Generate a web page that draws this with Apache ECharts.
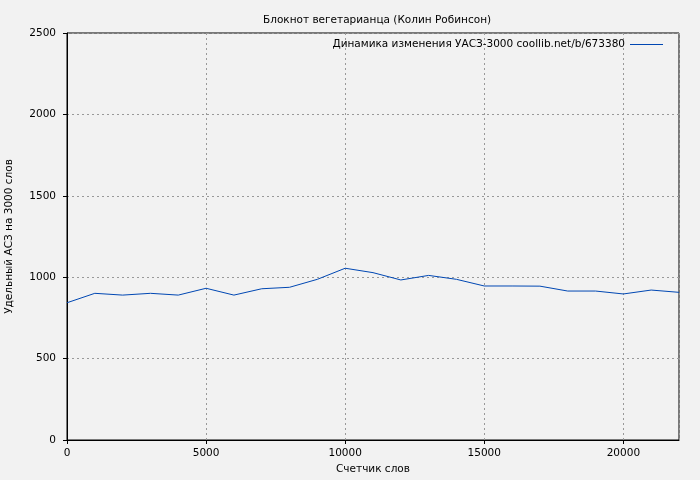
<!DOCTYPE html>
<html><head><meta charset="utf-8">
<script src="https://cdn.jsdelivr.net/npm/echarts@6/dist/echarts.min.js"></script>
<style>html,body{margin:0;padding:0;background:#f2f2f2}#c{width:700px;height:480px}</style>
</head><body><div id="c"></div>
<script>
const titleText = "Блокнот вегетарианца (Колин Робинсон)";
const seriesName = "Динамика изменения УАСЗ-3000 coollib.net/b/673380";
const xName = "Счетчик слов";
const yName = "Удельный АСЗ на 3000 слов";
const wordCounts = [0,1000,2000,3000,4000,5000,6000,7000,8000,9000,10000,11000,12000,13000,14000,15000,16000,17000,18000,19000,20000,21000,22000];
const values = [843,901,890,901,890,932,890,929,938,987,1055,1028,983,1011,987,946,946,945,915,915,897,921,907];

const font = "DejaVu Sans";
const fs = 10.5;
const chart = echarts.init(document.getElementById('c'), null, {renderer:'canvas'});
chart.setOption({
  backgroundColor:'#f2f2f2',
  animation:false,
  textStyle:{fontFamily:font},
  title:{text:titleText,left:258,top:10,textStyle:{fontFamily:font,fontSize:fs,fontWeight:'normal',color:'#000'}},
  legend:{right:32,top:34,align:'right',icon:'rect',itemWidth:33,itemHeight:1,itemGap:0,
    textStyle:{fontFamily:font,fontSize:fs,color:'#000'},data:[seriesName]},
  grid:{left:67,right:21,top:33,bottom:40,show:true,borderColor:'#000',borderWidth:1,outerBoundsMode:'none',containLabel:false},
  xAxis:{type:'value',min:0,max:22000,interval:5000,name:xName,nameLocation:'middle',nameGap:24,
    nameTextStyle:{fontFamily:font,fontSize:fs,color:'#000'},
    axisLine:{lineStyle:{color:'#000'}},axisTick:{show:true,length:4,lineStyle:{color:'#000'}},
    axisLabel:{fontFamily:font,fontSize:fs,color:'#000',margin:8,showMaxLabel:false,formatter:v=>String(v)},
    splitLine:{show:true,lineStyle:{color:'#999',type:[2,3]}}},
  yAxis:{type:'value',min:0,max:2500,interval:500,name:yName,nameLocation:'middle',nameGap:52,
    nameTextStyle:{fontFamily:font,fontSize:fs,color:'#000'},
    axisLine:{show:true,lineStyle:{color:'#000'}},axisTick:{show:true,length:4,lineStyle:{color:'#000'}},
    axisLabel:{fontFamily:font,fontSize:fs,color:'#000',margin:11,formatter:v=>String(v)},
    splitLine:{show:true,lineStyle:{color:'#999',type:[2,3]}}},
  series:[{name:seriesName,type:'line',showSymbol:false,symbol:'none',
    data:wordCounts.map((x,i)=>[x,values[i]]),
    lineStyle:{color:'#0047b3',width:1},itemStyle:{color:'#0047b3'}}]
});
</script></body></html>
